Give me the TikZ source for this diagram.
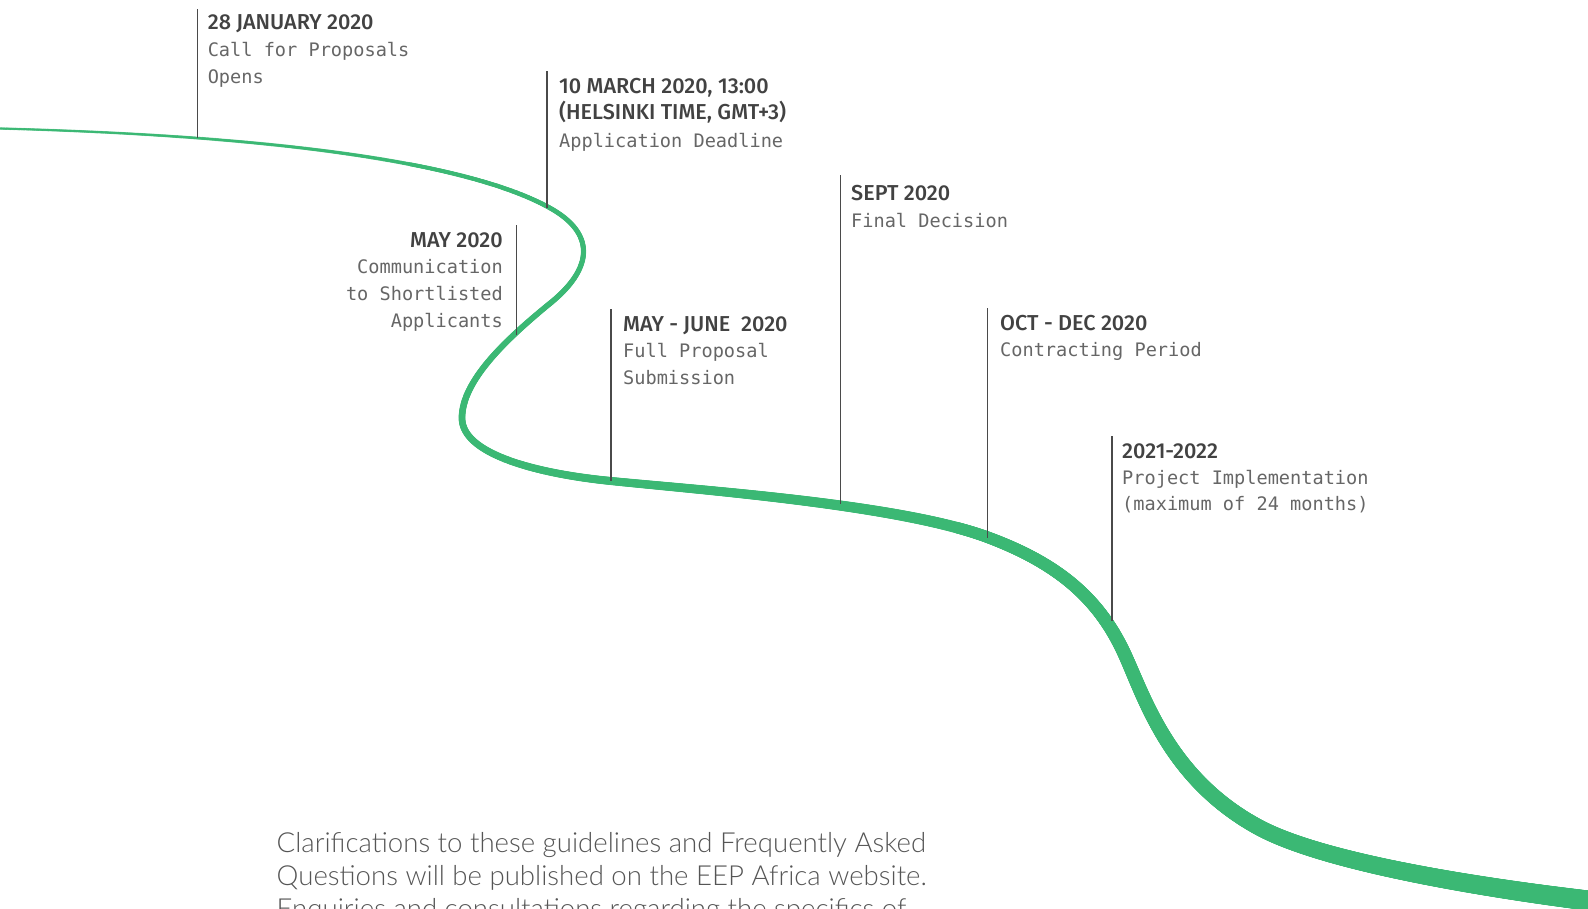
\documentclass[tikz,border=0pt]{standalone}
\usepackage{fontspec}
\usetikzlibrary{decorations.markings}
\newfontfamily\headfont{Fira Sans Medium}
\newfontfamily\monofont{DejaVu Sans Mono}
\newfontfamily\notefont{Lato Light}
\definecolor{tlgreen}{HTML}{3BB874}
\definecolor{headgray}{HTML}{424242}
\definecolor{bodygray}{HTML}{666666}
\definecolor{ticgray}{HTML}{4A4A4A}
\definecolor{notegray}{HTML}{555555}
\begin{document}
\begin{tikzpicture}[x=1pt,y=-1pt,
  head/.style={font=\headfont\fontsize{21.6}{25}\selectfont, text=headgray, inner sep=0pt, anchor=base west},
  headr/.style={head, anchor=base east},
  body/.style={font=\monofont\fontsize{18.6}{26}\selectfont, text=bodygray, inner sep=0pt, anchor=base west},
  bodyr/.style={body, anchor=base east},
  note/.style={font=\notefont\fontsize{27.6}{33}\selectfont, text=notegray, inner sep=0pt, anchor=base west},
  tick/.style={draw=ticgray, line width=1.5pt},
  taper/.style={decoration={markings,
     mark=between positions 0 and 1 step 0.8pt with {
       \pgfmathsetmacro\tlf{(\pgfkeysvalueof{/pgf/decoration/mark info/distance from start}+1)/\pgfdecoratedpathlength}
       \pgfmathsetmacro\tlr{0.5*(2.5+18*\tlf*sqrt(\tlf))}
       \fill[tlgreen] (0,0) circle[radius=\tlr pt];
     }}, decorate}
]
\useasboundingbox (0,0) rectangle (1588,908);
\clip (0,0) rectangle (1588,908);

% timeline curve
\path[taper] (0,128.5)
  .. controls (320,137) and (482,170) .. (550,208)
  .. controls (595,233) and (595,268) .. (548,305)
  .. controls (508,338) and (462,380) .. (462,418)
  .. controls (462,455) and (540,474) .. (611,481)
  .. controls (711,491) and (900,505) .. (987,537)
  .. controls (1060,564) and (1100,600) .. (1125,655)
  .. controls (1145,699) and (1170,780) .. (1260,828)
  .. controls (1330,865) and (1500,890) .. (1600,902);

% ticks
\coordinate (t1a) at (197.5,9);   \coordinate (t1b) at (197.5,138);
\coordinate (t2a) at (547,71);    \coordinate (t2b) at (547,208);
\coordinate (t3a) at (516.5,225); \coordinate (t3b) at (516.5,335);
\coordinate (t4a) at (611,309);   \coordinate (t4b) at (611,481);
\coordinate (t5a) at (840.5,175); \coordinate (t5b) at (840.5,504);
\coordinate (t6a) at (987.5,308); \coordinate (t6b) at (987.5,538);
\coordinate (t7a) at (1112,436);  \coordinate (t7b) at (1112,621);
\foreach \i in {1,...,7} {\draw[tick] (t\i a) -- (t\i b);}

% event 1
\node[head] (e1h) at (207.6,29.4) {28 JANUARY 2020};
\node[body] (e1a) at (207.6,56.7) {Call for Proposals};
\node[body] (e1b) at (207.6,83) {Opens};
% event 2
\node[head] (e2h) at (559,93) {10 MARCH 2020, 13:00};
\node[head] (e2i) at (559,119.5) {(HELSINKI TIME, GMT+3)};
\node[body] (e2a) at (559,147) {Application Deadline};
% event 3
\node[headr] (e3h) at (503,247) {MAY 2020};
\node[bodyr] (e3a) at (503,273.5) {Communication};
\node[bodyr] (e3b) at (503,300.8) {to Shortlisted};
\node[bodyr] (e3c) at (503,327) {Applicants};
% event 4
\node[head] (e4h) at (623,331) {MAY - JUNE\ \ 2020};
\node[body] (e4a) at (623,357.5) {Full Proposal};
\node[body] (e4b) at (623,384) {Submission};
% event 5
\node[head] (e5h) at (851,200.5) {SEPT 2020};
\node[body] (e5a) at (851,227) {Final Decision};
% event 6
\node[head] (e6h) at (1000,330) {OCT - DEC 2020};
\node[body] (e6a) at (1000,356.5) {Contracting Period};
% event 7
\node[head] (e7h) at (1122,458) {2021-2022};
\node[body] (e7a) at (1122,484) {Project Implementation};
\node[body] (e7b) at (1122,510.5) {(maximum of 24 months)};

% note
\node[note] (n1) at (276.5,852) {Clarifications to these guidelines and Frequently Asked};
\node[note] (n2) at (276.5,885) {Questions will be published on the EEP Africa website.};
\node[note] (n3) at (276.5,918) {Enquiries and consultations regarding the specifics of};
\end{tikzpicture}
\end{document}
